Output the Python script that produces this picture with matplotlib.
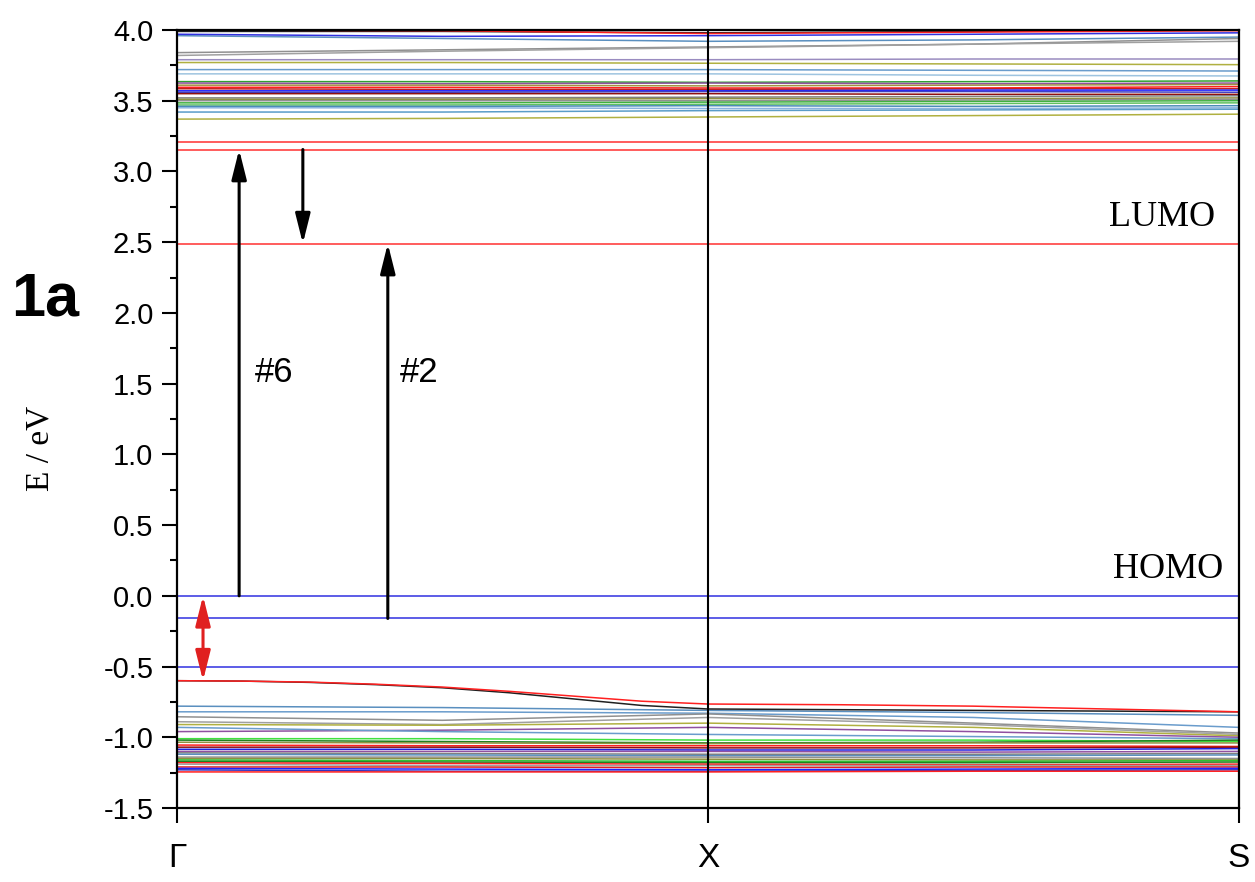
import matplotlib
matplotlib.use("Agg")
import matplotlib.pyplot as plt
from matplotlib.ticker import MultipleLocator

plt.rcParams["axes.unicode_minus"] = False

# k-path positions (Gamma, mid, X, mid, S)
kpts = [0.0, 0.5, 1.0, 1.5, 2.0]
klabels = ["Γ", "X", "S"]
kticks = [0.0, 1.0, 2.0]

# finer k grid for the curved top valence bands
kpts_fine = [0.0, 0.125, 0.25, 0.375, 0.5, 0.625, 0.75, 0.875, 1.0, 1.25, 1.5, 1.75, 2.0]
top_val_red = [-0.60, -0.603, -0.61, -0.625, -0.645, -0.675, -0.71, -0.745, -0.765,
               -0.77, -0.78, -0.80, -0.82]
top_val_black = [-0.60, -0.603, -0.612, -0.628, -0.65, -0.685, -0.73, -0.775, -0.80,
                 -0.805, -0.81, -0.815, -0.82]

# conduction-like bands (eV at the k points)
cond_bands = [
    [3.99, 3.99, 3.98, 3.99, 4.00],
    [4.00, 3.995, 3.975, 3.985, 3.995],
    [3.96, 3.94, 3.92, 3.93, 3.95],
    [3.97, 3.955, 3.96, 3.97, 3.98],
    [3.84, 3.86, 3.88, 3.90, 3.94],
    [3.82, 3.85, 3.875, 3.90, 3.92],
    [3.79, 3.79, 3.79, 3.795, 3.795],
    [3.77, 3.77, 3.765, 3.76, 3.755],
    [3.72, 3.72, 3.72, 3.715, 3.71],
    [3.69, 3.69, 3.69, 3.68, 3.675],
    [3.635, 3.635, 3.63, 3.635, 3.64],
    [3.625, 3.62, 3.625, 3.62, 3.625],
    [3.61, 3.61, 3.605, 3.61, 3.615],
    [3.595, 3.595, 3.59, 3.59, 3.60],
    [3.585, 3.58, 3.58, 3.585, 3.585],
    [3.57, 3.57, 3.57, 3.575, 3.575],
    [3.56, 3.56, 3.565, 3.565, 3.56],
    [3.55, 3.55, 3.55, 3.545, 3.545],
    [3.52, 3.52, 3.525, 3.53, 3.535],
    [3.51, 3.51, 3.515, 3.515, 3.52],
    [3.50, 3.50, 3.50, 3.505, 3.51],
    [3.485, 3.485, 3.49, 3.495, 3.50],
    [3.47, 3.47, 3.475, 3.48, 3.485],
    [3.46, 3.46, 3.465, 3.46, 3.465],
    [3.45, 3.45, 3.445, 3.445, 3.45],
    [3.42, 3.42, 3.43, 3.435, 3.44],
    [3.37, 3.375, 3.385, 3.395, 3.405],
    [3.21, 3.21, 3.21, 3.21, 3.21],
    [3.155, 3.155, 3.155, 3.155, 3.155],
    [2.49, 2.49, 2.49, 2.49, 2.49],
]
cond_colors = [
    "#202020", "#ff2020", "#5a8fbf", "#3030e0", "#909090", "#a0a0a0",
    "#9a8cc0", "#b0b040", "#6a9ccc", "#9ec4e0", "#30a030", "#9050a0",
    "#a09040", "#ff2020", "#c02020", "#2020ff", "#4040c0", "#901010",
    "#808080", "#909040", "#909090", "#40b040", "#60c060", "#4a8ab8",
    "#8ab4e0", "#5a9cc8", "#b0b040", "#ff3030", "#ff3030", "#ff3030",
]

# valence-like bands
val_bands = [
    [0.0, 0.0, 0.0, 0.0, 0.0],
    [-0.16, -0.16, -0.16, -0.16, -0.16],
    [-0.50, -0.50, -0.50, -0.50, -0.50],
    [-0.78, -0.79, -0.81, -0.825, -0.845],
    [-0.82, -0.82, -0.83, -0.86, -0.93],
    [-0.855, -0.88, -0.835, -0.90, -0.97],
    [-0.89, -0.91, -0.86, -0.91, -0.98],
    [-0.91, -0.915, -0.90, -0.93, -0.99],
    [-0.96, -0.95, -0.93, -0.96, -1.00],
    [-0.93, -0.96, -0.98, -0.995, -1.01],
    [-1.01, -1.01, -1.02, -1.02, -1.03],
    [-1.02, -1.03, -1.04, -1.035, -1.02],
    [-1.035, -1.04, -1.045, -1.04, -1.04],
    [-1.055, -1.06, -1.06, -1.06, -1.065],
    [-1.07, -1.07, -1.075, -1.075, -1.07],
    [-1.085, -1.085, -1.09, -1.09, -1.08],
    [-1.10, -1.10, -1.10, -1.105, -1.10],
    [-1.11, -1.115, -1.12, -1.12, -1.115],
    [-1.12, -1.125, -1.13, -1.13, -1.125],
    [-1.14, -1.14, -1.14, -1.145, -1.15],
    [-1.15, -1.15, -1.155, -1.16, -1.16],
    [-1.16, -1.165, -1.17, -1.17, -1.165],
    [-1.17, -1.175, -1.18, -1.18, -1.175],
    [-1.18, -1.185, -1.19, -1.195, -1.19],
    [-1.19, -1.20, -1.20, -1.20, -1.20],
    [-1.21, -1.21, -1.215, -1.21, -1.21],
    [-1.22, -1.225, -1.23, -1.225, -1.22],
    [-1.23, -1.24, -1.24, -1.235, -1.23],
    [-1.245, -1.245, -1.245, -1.24, -1.24],
]
val_colors = [
    "#3030e0", "#3030e0", "#3030e0", "#5a8fbf",
    "#6a9ccc", "#909090", "#a0a0a0", "#b0b040", "#9050a0", "#6a9ccc",
    "#40e040", "#208020", "#909040", "#ff2020", "#901010", "#2020e0",
    "#9050a0", "#808080", "#5a8fbf", "#909090", "#909040", "#30c030",
    "#208020", "#ff2020", "#a0a0a0", "#e02020", "#2020ff", "#3030c0",
    "#ff2020",
]

fig = plt.figure(figsize=(12.55, 8.82), dpi=100)
ax = fig.add_axes([177 / 1255, 1 - 808 / 882, (1239 - 177) / 1255, (808 - 30) / 882])

for vals, c in zip(cond_bands, cond_colors):
    ax.plot(kpts, vals, color=c, lw=1.1, solid_capstyle="butt")
for vals, c in zip(val_bands, val_colors):
    ax.plot(kpts, vals, color=c, lw=1.1, solid_capstyle="butt")
ax.plot(kpts_fine, top_val_black, color="#202020", lw=1.1)
ax.plot(kpts_fine, top_val_red, color="#ff2020", lw=1.1)

ax.axvline(1.0, color="black", lw=1.5)

ax.set_xlim(0, 2)
ax.set_ylim(-1.5, 4.0)
ax.yaxis.set_major_locator(MultipleLocator(0.5))
ax.yaxis.set_minor_locator(MultipleLocator(0.25))
ax.set_xticks(kticks)
ax.set_xticklabels(klabels, fontsize=24, family="Liberation Sans")
ax.tick_params(axis="x", direction="out", length=11, width=1.5, pad=14)
ax.tick_params(axis="y", which="major", direction="out", length=11, width=1.5,
               pad=6, labelsize=21)
ax.tick_params(axis="y", which="minor", direction="out", length=5, width=1.5)
for lab in ax.get_yticklabels():
    lab.set_family("Liberation Sans")
for sp in ax.spines.values():
    sp.set_linewidth(1.6)

# arrows
def arrow(x, y0, y1, color, style):
    ax.annotate("", xy=(x, y1), xytext=(x, y0),
                arrowprops=dict(arrowstyle=style + ",head_length=1.8,head_width=0.45",
                                color=color, lw=2.2, shrinkA=0, shrinkB=0,
                                mutation_scale=10))

arrow(0.117, 0.0, 3.155, "black", "-|>")
arrow(0.237, 3.155, 2.49, "black", "-|>")
arrow(0.397, -0.16, 2.49, "black", "-|>")
arrow(0.049, -0.60, 0.0, "#e02020", "<|-|>")

ax.text(0.147, 1.58, "#6", fontsize=25, family="Liberation Sans", va="center", ha="left")
ax.text(0.42, 1.58, "#2", fontsize=25, family="Liberation Sans", va="center", ha="left")
ax.text(1.955, 2.56, "LUMO", fontsize=26, family="Liberation Serif", ha="right", va="bottom")
ax.text(1.97, 0.07, "HOMO", fontsize=26, family="Liberation Serif", ha="right", va="bottom")

fig.text(45 / 1255, 1 - 300 / 882, "1a", fontsize=44, fontweight="bold",
         family="Liberation Sans", ha="center", va="center")
fig.text(40 / 1255, 1 - 448 / 882, "E / eV", fontsize=24, family="Liberation Serif",
         rotation=90, ha="center", va="center")

fig.savefig("out.png", dpi=100, facecolor="white")
